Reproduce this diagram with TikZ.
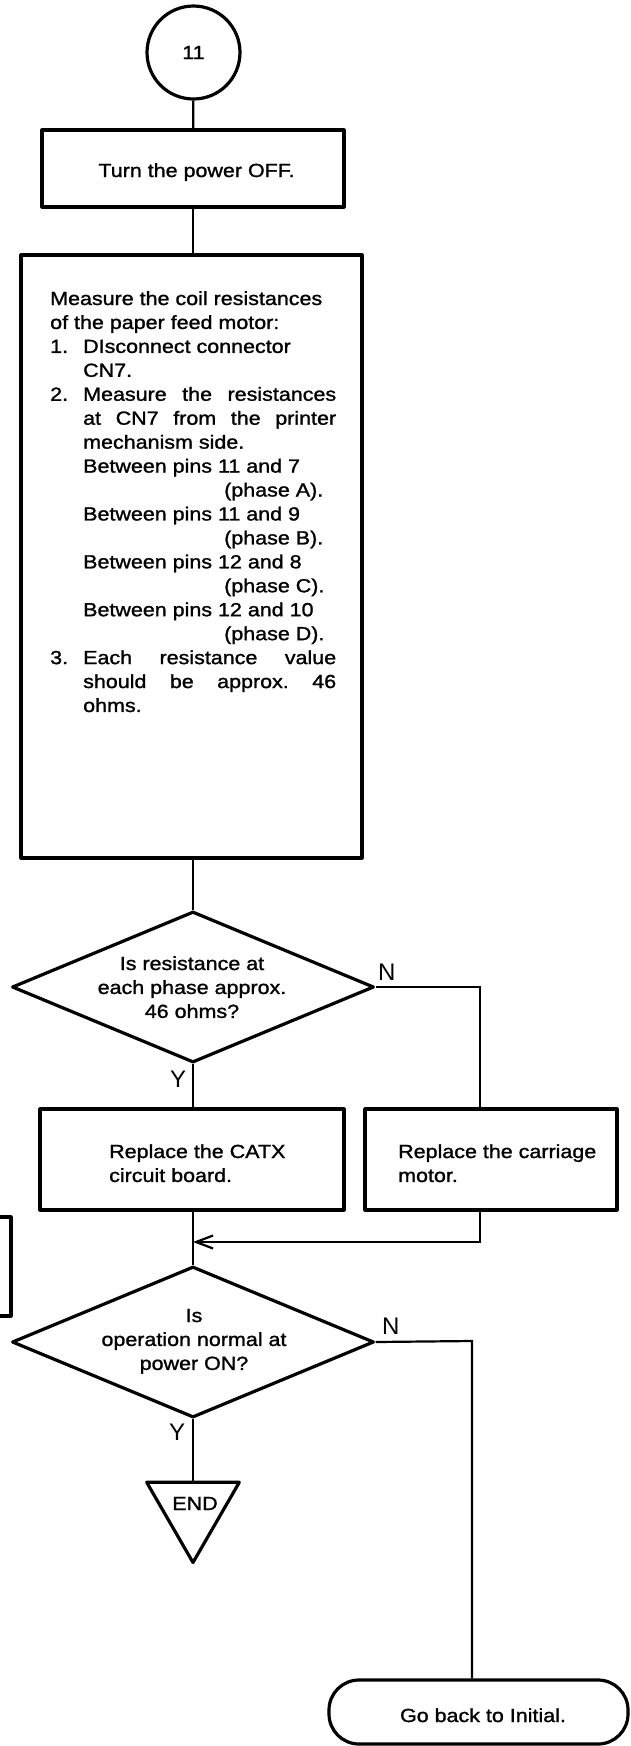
\documentclass[tikz,border=0pt]{standalone}
\usepackage{fontspec}
\setmainfont{Liberation Sans}[FakeStretch=1.13, FakeBold=1.3]
\newfontfamily\labelfont{Liberation Sans}
\usetikzlibrary{shapes.geometric,arrows.meta}

\begin{document}
\begin{tikzpicture}[x=1pt,y=-1pt,
  txt/.style={font=\fontsize{19pt}{23.94pt}\selectfont, inner sep=0pt},
  yn/.style={font=\labelfont\fontsize{24pt}{24pt}\selectfont, inner sep=0pt, anchor=base west},
  shapeline/.style={draw, line width=3.2pt, line join=round},
  procbox/.style={shapeline, rectangle, inner sep=0pt},
  decision/.style={shapeline, diamond, inner sep=0pt, minimum width=362pt, minimum height=151pt},
  link/.style={line width=2.2pt},
  barb/.style={-{Straight Barb[length=17pt,width=13pt]}}]

% page frame
\useasboundingbox (0,0) rectangle (630,1746);
\fill[white] (0,0) rectangle (630,1746);

% flowchart shapes
\node[shapeline, circle, minimum size=93pt, txt] (start) at (193.5,52.5) {11};
\node[procbox, minimum width=302pt, minimum height=77pt] (off) at (193,168.5) {};
\node[procbox, minimum width=341pt, minimum height=603pt] (measure) at (191.5,556.5) {};
\node[decision] (d1) at (193,987) {};
\node[procbox, minimum width=304pt, minimum height=101pt] (lbox) at (192,1159.5) {};
\node[procbox, minimum width=252pt, minimum height=101pt] (rbox) at (491,1159.5) {};
\node[decision] (d2) at (193,1342) {};
\node[shapeline, regular polygon, regular polygon sides=3, shape border rotate=180,
      minimum size=107pt, inner sep=0pt] (endtri) at (193,1509) {};
\node[procbox, rounded corners=30pt, minimum width=299pt, minimum height=64pt] (goback) at (478.5,1712) {};

% box running off the left edge
\begin{scope}
  \clip (0,0) rectangle (630,1746);
  \node[procbox, minimum width=60pt, minimum height=99pt] (edgebox) at (-19,1266.5) {};
\end{scope}

% texts
\node[txt, anchor=base] (offtext) at (196.5,177) {Turn the power OFF.};
\node[txt, anchor=base west] (steps) at (50,305) {\begin{tabular}[t]{@{}l@{}}
Measure the coil resistances\\
of the paper feed motor:\\
\makebox[33pt][l]{1.}DIsconnect connector\\
\hspace*{33pt}CN7.\\
\makebox[33pt][l]{2.}\makebox[253pt][s]{Measure the resistances}\\
\hspace*{33pt}\makebox[253pt][s]{at CN7 from the printer}\\
\hspace*{33pt}mechanism side.\\
\hspace*{33pt}Between pins 11 and 7\\
\hspace*{174pt}(phase A).\\
\hspace*{33pt}Between pins 11 and 9\\
\hspace*{174pt}(phase B).\\
\hspace*{33pt}Between pins 12 and 8\\
\hspace*{174pt}(phase C).\\
\hspace*{33pt}Between pins 12 and 10\\
\hspace*{174pt}(phase D).\\
\makebox[33pt][l]{3.}\makebox[253pt][s]{Each resistance value}\\
\hspace*{33pt}\makebox[253pt][s]{should be approx.\ 46}\\
\hspace*{33pt}ohms.
\end{tabular}};
\node[txt, anchor=base] (d1text) at (192,970) {\begin{tabular}[t]{@{}c@{}}
Is resistance at\\ each phase approx.\\ 46 ohms?\end{tabular}};
\node[txt, anchor=base west] (ltext) at (109,1158) {\begin{tabular}[t]{@{}l@{}}
Replace the CATX\\ circuit board.\end{tabular}};
\node[txt, anchor=base west] (rtext) at (398,1158) {\begin{tabular}[t]{@{}l@{}}
Replace the carriage\\ motor.\end{tabular}};
\node[txt, anchor=base] (d2text) at (194,1322) {\begin{tabular}[t]{@{}c@{}}
Is\\ operation normal at\\ power ON?\end{tabular}};
\node[txt, anchor=base] (endtext) at (195,1510) {END};
\node[txt, anchor=base] (gobacktext) at (483,1722) {Go back to Initial.};

% branch labels
\node[yn] (n1) at (378,980) {N};
\node[yn] (y1) at (170,1087) {Y};
\node[yn] (n2) at (382,1334) {N};
\node[yn] (y2) at (169,1440) {Y};

% connectors
\coordinate (nturn1) at (480,987);
\coordinate (nturn2) at (472,1341);
\coordinate (merge) at (193,1242);
\draw[link] (start) -- (off);
\draw[link] (off.south) -- (off.south |- measure.north);
\draw[link] (d1.north |- measure.south) -- (d1.north);
\draw[link] (d1.south) -- (d1.south |- lbox.north);
\draw[link] (d1.east) -- (nturn1) -- (nturn1 |- rbox.north);
\draw[link] (d2.north |- lbox.south) -- (d2.north);
\draw[link, barb] (nturn1 |- rbox.south) |- (merge);
\draw[link] (d2.south) -- (endtri);
\draw[link] (d2.east) -- (nturn2) -- (nturn2 |- goback.north);
\end{tikzpicture}
\end{document}
